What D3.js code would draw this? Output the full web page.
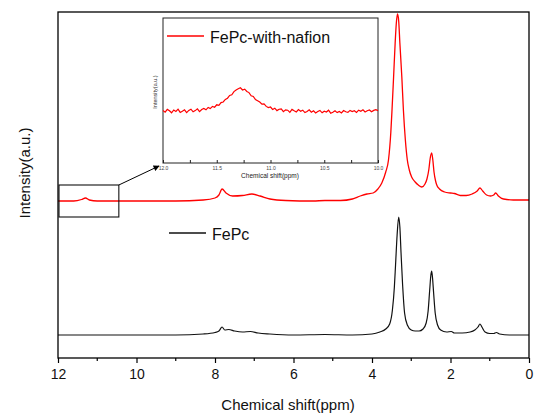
<!DOCTYPE html>
<html>
<head>
<meta charset="utf-8">
<script src="https://cdn.jsdelivr.net/npm/d3@7"></script>
<style>
  body { margin: 0; background: #fff; }
  svg { display: block; font-family: "Liberation Sans", Arial, sans-serif; }
</style>
</head>
<body>
<div id="chart"></div>
<script>
// Main spectra: chemical shift (ppm) and intensity (a.u., red stacked above black)
const fepcPpm = [12, 9, 8.3, 8.0, 7.9, 7.82, 7.75, 7.65, 7.5, 7.3, 7.1, 6.9, 6.6, 6.0, 5.2, 4.5, 4.0, 3.8, 3.65, 3.55, 3.48, 3.43, 3.4, 3.36, 3.32, 3.29, 3.26, 3.22, 3.17, 3.1, 3.0, 2.9, 2.8, 2.7, 2.62, 2.57, 2.53, 2.5, 2.48, 2.46, 2.43, 2.39, 2.33, 2.25, 2.1, 1.98, 1.9, 1.7, 1.5, 1.38, 1.3, 1.25, 1.2, 1.12, 1.0, 0.9, 0.83, 0.75, 0.5, 0];
const fepcInt = [0, 0, 1, 2.5, 4, 8, 5, 5.5, 4, 3, 3.5, 2, 1, 0, 0.5, 0, 1, 3, 6, 11, 25, 48, 70, 100, 118, 108, 82, 50, 22, 10, 5, 4, 4, 6, 12, 24, 45, 60, 64, 58, 42, 22, 10, 5, 3, 3.5, 2, 2, 3, 5, 8, 11, 8, 3, 1.5, 1.5, 2.5, 1, 0, 0];

const nafionPpm = [12, 11.6, 11.4, 11.3, 11.2, 11.0, 10.0, 9.0, 8.3, 8.0, 7.9, 7.82, 7.72, 7.55, 7.3, 7.06, 6.85, 6.6, 6.2, 5.5, 5.2, 4.8, 4.5, 4.3, 4.13, 3.97, 3.85, 3.75, 3.65, 3.58, 3.52, 3.49, 3.45, 3.41, 3.38, 3.35, 3.32, 3.29, 3.24, 3.2, 3.15, 3.1, 3.05, 2.99, 2.9, 2.82, 2.73, 2.65, 2.6, 2.55, 2.52, 2.48, 2.45, 2.42, 2.38, 2.35, 2.28, 2.15, 2.0, 1.9, 1.75, 1.6, 1.45, 1.32, 1.25, 1.18, 1.08, 0.98, 0.9, 0.85, 0.78, 0.65, 0.4, 0];
const nafionInt = [134, 134, 135.5, 137, 135, 134, 134, 134, 135, 137, 140, 146, 142, 139, 139.5, 141, 139, 136, 134.5, 134, 134.5, 134.5, 136, 139, 141, 142, 146, 152, 163, 175, 203, 225, 258, 292, 312, 321, 314, 292, 258, 225, 195, 175, 165, 158, 153, 150, 148, 151, 156, 166, 176, 182, 175, 163, 154, 150, 146, 143, 142, 141.5, 139.5, 139.5, 141, 144, 147, 144, 140, 139, 140, 142, 139, 136, 135, 135];

// Inset: 12.0 -> 10.0 ppm sampled every 0.02 ppm
const insetPpm = d3.range(0, 101).map(i => +(12 - i * 0.02).toFixed(2));
const insetInt = [0.4, -1.2, 1.6, 0.2, -1.8, 1.0, -0.4, 1.8, -1.4, -0.2,
  1.2, -1.6, 0.6, 1.8, -0.8, 0.4, 2.2, -0.6, 1.4, 2.6,
  1.2, 3.6, 2.4, 4.6, 3.8, 6.2, 5.6, 8.4, 9.0, 11.6,
  12.8, 15.6, 16.2, 19.4, 21.0, 22.2, 23.2, 21.0, 21.8, 19.6,
  18.4, 15.2, 14.6, 11.4, 10.2, 9.0, 6.8, 7.2, 4.6, 3.4,
  4.0, 1.6, 2.8, 0.4, 1.8, 2.2, -0.6, 1.2, 0.8, -1.4,
  1.6, 0.2, -1.0, 1.4, -0.2, 0.8, -1.6, -0.4, 1.2, -1.2,
  0.2, -2.0, -0.6, 0.6, -1.8, -0.2, -1.0, 0.8, -2.2, -1.2,
  0.2, -1.6, -0.4, -2.0, 0.4, -0.8, -1.4, 0.6, -0.6, 0.2,
  -1.4, 0.8, -0.2, 1.2, -1.0, 0.2, 1.0, -0.8, 0.6, 1.4, 0.4];

const xTicks = [12, 10, 8, 6, 4, 2, 0];
const insetTicks = [12.0, 11.5, 11.0, 10.5, 10.0];
const zoomRange = [12, 10.45]; // ppm region marked by the box

const W = 534, H = 416;
const box = { left: 58, right: 529, top: 12, bottom: 358 };
const ins = { left: 163, right: 378, top: 18, bottom: 163 };

const svg = d3.select('#chart').append('svg').attr('width', W).attr('height', H);

const x = d3.scaleLinear().domain([12, 0]).range([box.left, box.right]);
const y = d3.scaleLinear().domain([-23, 323]).range([box.bottom, box.top]);

const line = d3.line().x(d => x(d[0])).y(d => y(d[1])).curve(d3.curveMonotoneX);

// Spectra
svg.append('path')
  .datum(d3.zip(fepcPpm, fepcInt).reverse())
  .attr('fill', 'none').attr('stroke', '#111').attr('stroke-width', 1.2)
  .attr('d', line);
svg.append('path')
  .datum(d3.zip(nafionPpm, nafionInt).reverse())
  .attr('fill', 'none').attr('stroke', '#f00').attr('stroke-width', 1.3)
  .attr('d', line);

// Frame
svg.append('rect')
  .attr('x', box.left).attr('y', box.top)
  .attr('width', box.right - box.left).attr('height', box.bottom - box.top)
  .attr('fill', 'none').attr('stroke', '#000').attr('stroke-width', 1.3);

// Bottom axis: majors every 2, minors every 1, pointing out
const xAxis = svg.append('g').attr('transform', `translate(0,${box.bottom})`)
  .call(d3.axisBottom(x).tickValues(xTicks).tickFormat(d3.format('d')).tickSize(5).tickPadding(6));
xAxis.select('.domain').remove();
xAxis.selectAll('line').attr('stroke-width', 1.2);
xAxis.selectAll('text').attr('font-size', 14).attr('fill', '#111')
  .attr('font-family', '"Liberation Sans", Arial, sans-serif');
svg.append('g').selectAll('line').data(d3.range(11, 0, -2)).join('line')
  .attr('x1', d => x(d)).attr('x2', d => x(d))
  .attr('y1', box.bottom).attr('y2', box.bottom + 3)
  .attr('stroke', '#000').attr('stroke-width', 1.2);

svg.append('text').attr('x', 288).attr('y', 410).attr('text-anchor', 'middle')
  .attr('font-size', 15).attr('fill', '#111').text('Chemical shift(ppm)');
svg.append('text').attr('transform', 'translate(30,173) rotate(-90)')
  .attr('text-anchor', 'middle').attr('font-size', 15).attr('fill', '#111')
  .text('Intensity(a.u.)');

// Zoom box and arrow
svg.append('rect')
  .attr('x', x(zoomRange[0]) + 1).attr('y', 185)
  .attr('width', x(zoomRange[1]) - x(zoomRange[0]) - 1).attr('height', 32)
  .attr('fill', 'none').attr('stroke', '#111').attr('stroke-width', 1.1);
svg.append('defs').append('marker')
  .attr('id', 'arrow').attr('viewBox', '0 0 10 10').attr('refX', 9).attr('refY', 5)
  .attr('markerWidth', 8).attr('markerHeight', 6).attr('orient', 'auto')
  .append('path').attr('d', 'M0,0L10,5L0,10Z').attr('fill', '#000');
svg.append('line')
  .attr('x1', x(zoomRange[1])).attr('y1', 185).attr('x2', 159).attr('y2', 166)
  .attr('stroke', '#000').attr('stroke-width', 1).attr('marker-end', 'url(#arrow)');

// Inset
const inset = svg.append('g');
const xi = d3.scaleLinear().domain([12, 10]).range([ins.left, ins.right]);
const yi = d3.scaleLinear().domain([-52, 93]).range([ins.bottom, ins.top]);

inset.append('rect')
  .attr('x', ins.left).attr('y', ins.top)
  .attr('width', ins.right - ins.left).attr('height', ins.bottom - ins.top)
  .attr('fill', '#fff').attr('stroke', '#222').attr('stroke-width', 1);

inset.append('path')
  .datum(d3.zip(insetPpm, insetInt))
  .attr('fill', 'none').attr('stroke', '#f00').attr('stroke-width', 1.2)
  .attr('d', d3.line().x(d => xi(d[0])).y(d => yi(d[1])));

const xiAxis = inset.append('g').attr('transform', `translate(0,${ins.bottom})`)
  .call(d3.axisBottom(xi).tickValues(d3.range(0, 9).map(i => 12 - i * 0.25))
    .tickFormat(d => insetTicks.includes(d) ? d3.format('.1f')(d) : '')
    .tickSize(-3).tickPadding(3));
xiAxis.select('.domain').remove();
xiAxis.selectAll('line').attr('stroke', '#222');
xiAxis.selectAll('text').attr('font-size', 5).attr('fill', '#444')
  .attr('font-family', '"Liberation Sans", Arial, sans-serif');

inset.append('text').attr('x', 270).attr('y', 178).attr('text-anchor', 'middle')
  .attr('font-size', 6.5).attr('fill', '#222').text('Chemical shift(ppm)');
inset.append('text').attr('transform', 'translate(157,92) rotate(-90)')
  .attr('text-anchor', 'middle').attr('font-size', 5.5).attr('fill', '#333')
  .text('Intensity(a.u.)');

// Legends (drawn last so the inset background does not cover them)
const legends = [
  { label: 'FePc-with-nafion', color: '#f00', x: 167, y: 36 },
  { label: 'FePc', color: '#111', x: 169, y: 233 }
];
legends.forEach(l => {
  svg.append('line').attr('x1', l.x).attr('x2', l.x + 37).attr('y1', l.y).attr('y2', l.y)
    .attr('stroke', l.color).attr('stroke-width', 1.3);
  svg.append('text').attr('x', l.x + 43).attr('y', l.y + 6.5)
    .attr('font-size', 16).attr('fill', '#111').text(l.label);
});
</script>
</body>
</html>
